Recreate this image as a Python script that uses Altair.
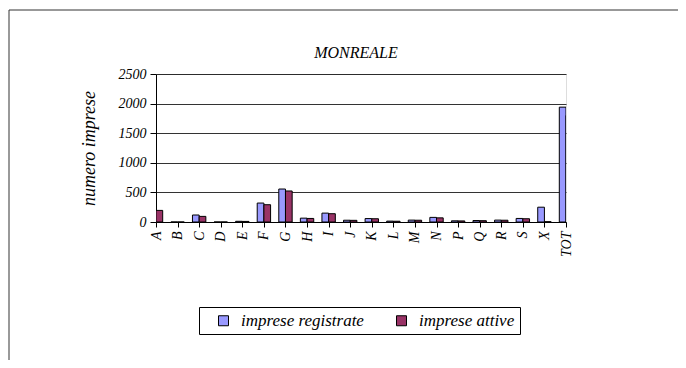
import altair as alt
import pandas as pd

categories = ["A", "B", "C", "D", "E", "F", "G", "H", "I", "J", "K", "L", "M", "N", "P", "Q", "R", "S", "X", "TOT"]
registrate = [200, 0, 118, 0, 12, 320, 557, 65, 150, 30, 58, 15, 32, 78, 20, 25, 32, 60, 250, 1940]
attive = [196, 0, 95, 0, 10, 292, 524, 60, 140, 28, 55, 13, 30, 70, 18, 22, 30, 55, 5, 1800]
series = ["imprese registrate", "imprese attive"]
colors = ["#9999FF", "#993366"]

rows = []
for i, c in enumerate(categories):
    rows.append({"idx": i, "cat": c, "serie": series[0], "ord": 0, "val": registrate[i]})
    rows.append({"idx": i, "cat": c, "serie": series[1], "ord": 1, "val": attive[i]})
df = pd.DataFrame(rows)

FONT = "Liberation Serif"
label_expr = "[" + ",".join("'" + c + "'" for c in categories) + "][datum.value]"

bars = alt.Chart(df).transform_calculate(
    x0="datum.idx - 0.31 + datum.ord * 0.31",
    x1="datum.idx + datum.ord * 0.31",
    base="0",
).mark_bar(clip=True, stroke="black", strokeWidth=1).encode(
    x=alt.X("x0:Q", scale=alt.Scale(domain=[0, len(categories) - 1], nice=False, zero=False),
            axis=alt.Axis(values=list(range(len(categories))), labelExpr=label_expr, title=None,
                          labelAngle=-90, labelAlign="right", labelBaseline="middle",
                          grid=False, domainColor="black", tickColor="black", tickSize=5,
                          labelFont=FONT, labelFontStyle="italic", labelFontSize=14,
                          labelColor="black", labelPadding=4)),
    x2="x1:Q",
    y=alt.Y("val:Q", scale=alt.Scale(domain=[0, 2500], nice=False),
            axis=alt.Axis(values=[0, 500, 1000, 1500, 2000, 2500], format="d", title="numero imprese",
                          grid=True, gridColor="black", gridOpacity=0.8, domainColor="black",
                          tickColor="black", tickSize=6, labelPadding=4,
                          labelFont=FONT, labelFontStyle="italic", labelFontSize=14,
                          labelColor="black", titleFont=FONT, titleFontStyle="italic",
                          titleFontWeight="normal", titleFontSize=18, titleColor="black",
                          titlePadding=20)),
    y2="base:Q",
    color=alt.Color("serie:N", scale=alt.Scale(domain=series, range=colors),
                    legend=alt.Legend(title=None, orient="none", legendX=43, legendY=233,
                                      direction="horizontal", strokeColor="black", padding=5,
                                      symbolType="square", symbolSize=100, symbolStrokeColor="black",
                                      symbolStrokeWidth=1, symbolOpacity=1, symbolOffset=11,
                                      labelFont=FONT, labelFontStyle="italic", labelFontSize=17,
                                      labelColor="black", labelOffset=9, columnPadding=18,
                                      offset=0)),
)

frame_df = pd.DataFrame({"k": [0]})
frame_left = alt.Chart(frame_df).mark_rule(color="#777777", strokeWidth=1.5).encode(
    x=alt.value(-147), y=alt.value(-64), y2=alt.value(300))
frame_top = alt.Chart(frame_df).mark_rule(color="#333333", strokeWidth=1).encode(
    x=alt.value(-147), x2=alt.value(540), y=alt.value(-64))

chart = alt.layer(bars, frame_left, frame_top).properties(
    width=410, height=148,
    autosize=alt.AutoSizeParams(type="none"),
    padding={"left": 148, "top": 66, "right": 112, "bottom": 138},
    title=alt.TitleParams("MONREALE", font=FONT, fontStyle="italic", fontWeight="normal",
                          fontSize=16, color="black", offset=15, dx=-5, dy=67),
).configure_view(stroke="#808080", strokeWidth=1.5).configure(background="white")

chart.save("out.html", embed_options={"renderer": "svg", "actions": False})
